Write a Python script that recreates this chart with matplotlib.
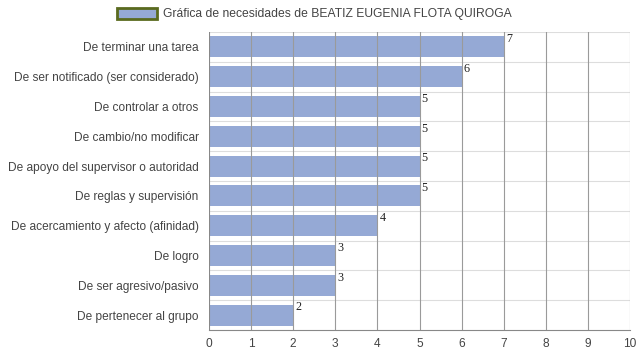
import matplotlib
matplotlib.use("Agg")
import matplotlib.pyplot as plt
from matplotlib.patches import Patch

categories = ["De terminar una tarea", "De ser notificado (ser considerado)", "De controlar a otros",
              "De cambio/no modificar", "De apoyo del supervisor o autoridad", "De reglas y supervisión",
              "De acercamiento y afecto (afinidad)", "De logro", "De ser agresivo/pasivo",
              "De pertenecer al grupo"]
values = [7, 6, 5, 5, 5, 5, 4, 3, 3, 2]
xticks = list(range(0, 11))
title = "Gráfica de necesidades de BEATIZ EUGENIA FLOTA QUIROGA"

plt.rcParams['font.family'] = ['Liberation Sans', 'DejaVu Sans']
fig = plt.figure(figsize=(6.39, 3.6), dpi=100)
ax = fig.add_axes([209/639, 30/360, (630-209)/639, (328-30)/360])

n = len(categories)
ypos = list(range(n))
ax.barh(ypos, values, height=0.7, color='#95a9d5', zorder=1)
ax.set_ylim(n - 0.5, -0.5)
ax.set_xlim(0, 10)
ax.set_xticks(xticks)
ax.set_yticks(ypos)
ax.set_yticklabels(categories)
ax.tick_params(axis='both', length=0, labelsize=8.55, colors='#444444')
ax.tick_params(axis='y', pad=7.5)
ax.tick_params(axis='x', pad=6)
for x in xticks[1:]:
    ax.axvline(x, color='#9a9a9a', lw=0.8, zorder=2)
for b in range(0, n):
    ax.axhline(b - 0.5, color='#dddddd', lw=0.8, zorder=0.5)
for s in ['top', 'right', 'left']:
    ax.spines[s].set_visible(False)
ax.spines['bottom'].set_color('#888888')
ax.spines['bottom'].set_linewidth(0.8)
ax.axvline(0, color='#888888', lw=0.8, zorder=2)

for i, v in enumerate(values):
    ax.text(v + 0.05, i - 0.26, str(v), fontsize=8.7, family='Liberation Serif',
            color='#222222', va='center', ha='left', zorder=3)

h = [Patch(facecolor='#95a9d5', edgecolor='#5a6a1e', linewidth=2)]
fig.legend(h, [title], loc='center', bbox_to_anchor=(314/639, 1 - 14/360), frameon=False,
           fontsize=8.7, handlelength=3.3, handleheight=1.0, handletextpad=0.5, labelcolor='#444444')

fig.savefig('out.png', dpi=100)
